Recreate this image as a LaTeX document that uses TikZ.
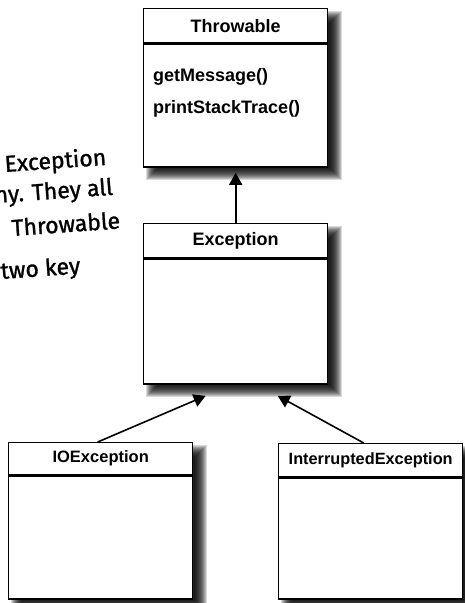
\documentclass[tikz,border=0pt]{standalone}
\usepackage{fontspec}
\setmainfont{Liberation Sans}
\newfontfamily\hand{Fira Sans}[FakeBold=1.2]
\usetikzlibrary{arrows.meta}
\tikzset{
  hdr/.style={draw=black, line width=1.4pt, fill=white, minimum width=184pt,
    inner sep=0pt, font=\bfseries\fontsize{18}{20}\selectfont, anchor=north west},
  bodybox/.style={draw=black, line width=1.4pt, fill=white, minimum width=184pt,
    inner sep=0pt, anchor=north},
  meth/.style={font=\bfseries\fontsize{18}{20}\selectfont, anchor=base west, inner sep=0pt},
  note/.style={font=\hand\fontsize{23}{25}\selectfont, anchor=base west, inner sep=0pt, rotate=4},
  arr/.style={line width=1.6pt, -{Triangle[length=12pt,width=13pt]}},
}
\newcommand\boxshadow[4]{%
  \foreach \r in {-6,...,6}{%
    \fill[black, opacity=0.15] (#1+9-\r, #2+9-\r) rectangle (#3+9+\r, #4+9+\r);
  }%
}
\begin{document}
\begin{tikzpicture}[x=1pt, y=-1pt]
\useasboundingbox (0,0) rectangle (464,603);
\fill[white] (0,0) rectangle (464,603);

% shadows
\boxshadow{143}{8}{327}{165}
\boxshadow{143}{223}{327}{382}
\boxshadow{8}{442}{192}{597}
\boxshadow{278}{443}{462}{597}

% Throwable
\node[hdr, minimum height=34pt] (thr) at (143,8) {Throwable};
\node[bodybox, minimum height=123pt] (thrb) at (thr.south) {};
\node[meth] (m1) at (153,81) {getMessage()};
\node[meth] (m2) at (153,113) {printStackTrace()};

% Exception
\node[hdr, minimum height=34pt] (exc) at (143,223) {Exception};
\node[bodybox, minimum height=125pt] (excb) at (exc.south) {};

% IOException
\node[hdr, minimum height=32pt, font=\bfseries\fontsize{16.5}{18}\selectfont] (io) at (8,442) {IOException};
\node[bodybox, minimum height=123pt] (iob) at (io.south) {};

% InterruptedException
\node[hdr, minimum height=33pt, font=\bfseries\fontsize{16.3}{18}\selectfont] (intr) at (278,443) {InterruptedException};
\node[bodybox, minimum height=121pt] (intrb) at (intr.south) {};

% connectors
\coordinate (tthr) at ([yshift=-5pt]thrb.south);
\coordinate (tl) at ([xshift=-30pt,yshift=-11pt]excb.south);
\coordinate (tr) at ([xshift=42pt,yshift=-11pt]excb.south);
\draw[arr] (exc.north) -- (tthr);
\draw[arr] ([xshift=-3pt]io.north) -- (tl);
\draw[arr] ([xshift=-7pt]intr.north) -- (tr);

% handwritten note (cut at the left edge)
\node[note] (n1) at (5,172) {Exception};
\node[note] (n2) at (-5,203) {hy. They all};
\node[note] (n3) at (12,236) {Throwable};
\node[note] (n4) at (1,279) {two key};
\end{tikzpicture}
\end{document}
